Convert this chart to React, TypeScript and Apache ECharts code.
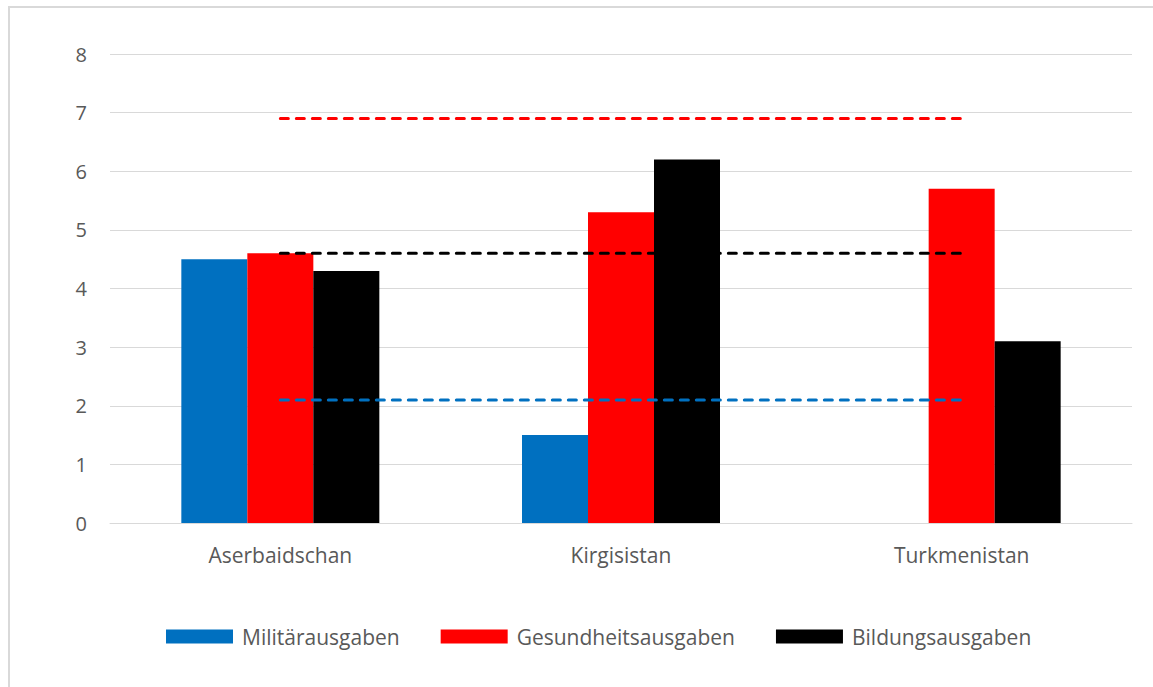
import React, { useEffect, useRef } from "react";
import * as echarts from "echarts";

const categories = ["Aserbaidschan", "Kirgisistan", "Turkmenistan"];
const military = [4.5, 1.5, null];
const health = [4.6, 5.3, 5.7];
const education = [4.3, 6.2, 3.1];
const avgHealth = [6.9, 6.9, 6.9];
const avgEducation = [4.6, 4.6, 4.6];
const avgMilitary = [2.1, 2.1, 2.1];
const yTicks = { min: 0, max: 8, interval: 1 };

const FONT = "'Open Sans', sans-serif";
const TEXT = "#595959";

export default function App() {
  const ref = useRef<HTMLDivElement>(null);
  useEffect(() => {
    if (!ref.current) return;
    const chart = echarts.init(ref.current, null, { renderer: "svg" });
    const dashed = (name: string, data: number[], color: string) => ({
      name,
      type: "line",
      data,
      symbol: "none",
      silent: true,
      z: 5,
      lineStyle: { color, width: 3, type: [8, 8], cap: "round" },
    });
    chart.setOption({
      animation: false,
      backgroundColor: "#ffffff",
      textStyle: { fontFamily: FONT },
      graphic: [
        {
          type: "rect",
          shape: { x: 9, y: 7, width: 1300, height: 900 },
          style: { fill: "none", stroke: "#D9D9D9", lineWidth: 2 },
          silent: true,
        },
      ],
      grid: { left: 110, right: 21, top: 54, bottom: 164, containLabel: false },
      legend: {
        data: ["Militärausgaben", "Gesundheitsausgaben", "Bildungsausgaben"],
        left: 166,
        top: 626,
        padding: 0,
        itemWidth: 67,
        itemHeight: 14,
        itemGap: 41,
        icon: "rect",
        textStyle: { color: TEXT, fontSize: 21, fontFamily: FONT, padding: [0, 0, 0, 4] },
      },
      xAxis: {
        type: "category",
        data: categories,
        axisLine: { lineStyle: { color: "#D9D9D9", width: 1 } },
        axisTick: { show: false },
        axisLabel: { color: TEXT, fontSize: 21, fontFamily: FONT, margin: 21 },
      },
      yAxis: {
        type: "value",
        min: yTicks.min,
        max: yTicks.max,
        interval: yTicks.interval,
        axisLine: { show: false },
        axisTick: { show: false },
        axisLabel: { color: TEXT, fontSize: 20, fontFamily: FONT, margin: 23 },
        splitLine: { lineStyle: { color: "#D9D9D9", width: 1 } },
      },
      series: [
        { name: "Militärausgaben", type: "bar", data: military, barWidth: 66, barGap: "0%", itemStyle: { color: "#0070C0" } },
        { name: "Gesundheitsausgaben", type: "bar", data: health, barWidth: 66, barGap: "0%", itemStyle: { color: "#FF0000" } },
        { name: "Bildungsausgaben", type: "bar", data: education, barWidth: 66, barGap: "0%", itemStyle: { color: "#000000" } },
        dashed("Ø Gesundheit", avgHealth, "#FF0000"),
        dashed("Ø Bildung", avgEducation, "#000000"),
        dashed("Ø Militär", avgMilitary, "#0070C0"),
      ],
    });
    return () => chart.dispose();
  }, []);
  return (
    <div
      ref={ref}
      style={{ position: "fixed", left: 0, top: 0, width: 1153, height: 687 }}
    />
  );
}
